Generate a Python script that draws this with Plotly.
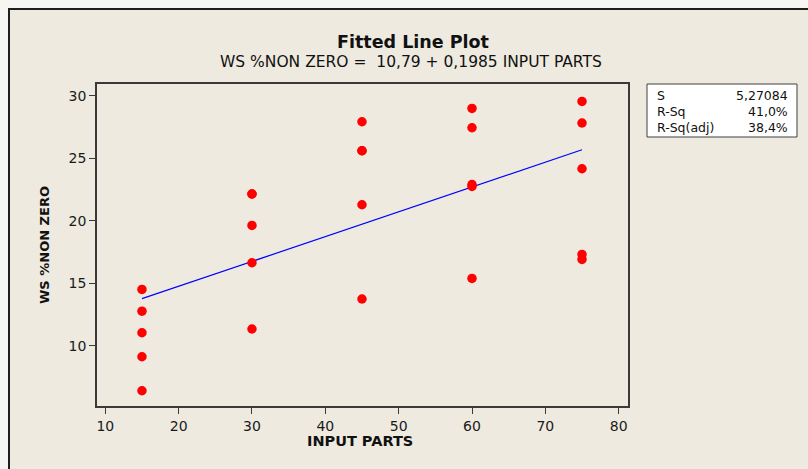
import plotly.graph_objects as go

# Observations: input parts vs. WS %non zero
input_parts = [15, 15, 15, 15, 15,
               30, 30, 30, 30, 30,
               45, 45, 45, 45, 45,
               60, 60, 60, 60, 60,
               75, 75, 75, 75, 75]
ws_nonzero = [14.51, 12.77, 11.04, 9.12, 6.40,
              22.14, 22.14, 19.63, 16.64, 11.34,
              27.92, 25.60, 25.60, 21.28, 13.74,
              28.99, 27.44, 22.90, 22.74, 15.39,
              29.55, 27.82, 24.16, 17.31, 16.91]

# Regression results
intercept = 10.79
slope = 0.1985
stat_labels = ["S", "R-Sq", "R-Sq(adj)"]
stat_values = ["5,27084", "41,0%", "38,4%"]

x_ticks = [10, 20, 30, 40, 50, 60, 70, 80]
y_ticks = [10, 15, 20, 25, 30]

# Figure geometry (pixels)
W, H = 808, 469
L, R, T, B = 97, 628, 84, 406


def px(x):
    return (x - L) / (R - L)


def py(y):
    return (B - y) / (B - T)


BEIGE = "#EEEAE0"
OUTER = "#F6F5F1"
FONT = "DejaVu Sans, Verdana, sans-serif"

fit_x = [min(input_parts), max(input_parts)]
fit_y = [intercept + slope * v for v in fit_x]

fig = go.Figure()
fig.add_trace(go.Scatter(
    x=fit_x, y=fit_y, mode="lines",
    line=dict(color="#0000FF", width=1.2),
    hoverinfo="skip", showlegend=False,
))
fig.add_trace(go.Scatter(
    x=input_parts, y=ws_nonzero, mode="markers",
    marker=dict(color="#FF0000", size=9.5, line=dict(width=0)),
    showlegend=False,
))

axis_common = dict(
    showgrid=False, zeroline=False,
    showline=True, mirror=True, linecolor="#3a3a3a", linewidth=1.5,
    ticks="outside", ticklen=6, tickwidth=1, tickcolor="#3a3a3a",
    tickfont=dict(family=FONT, size=14, color="#1a1a1a"),
)

fig.update_layout(
    width=W, height=H, autosize=False,
    margin=dict(l=L, r=W - R, t=T, b=H - B, pad=0),
    paper_bgcolor=OUTER, plot_bgcolor="white",
    xaxis=dict(range=[8.87, 81.27], tickvals=x_ticks, **axis_common),
    yaxis=dict(range=[5.18, 30.94], tickvals=y_ticks, **axis_common),
)

shapes = [
    # outer panel
    dict(type="rect", xref="paper", yref="paper",
         x0=px(9), x1=px(830), y0=py(9), y1=py(490),
         fillcolor=BEIGE, line=dict(color="#1e1e1e", width=2), layer="below"),
    # statistics box
    dict(type="rect", xref="paper", yref="paper",
         x0=px(647), x1=px(797), y0=py(84), y1=py(137),
         fillcolor="white", line=dict(color="#404040", width=1)),
]

annotations = [
    dict(text="<b>Fitted Line Plot</b>", x=px(413), y=py(42),
         font=dict(family=FONT, size=17.5, color="#111111")),
    dict(text="WS %NON ZERO =\u00a0 10,79 + 0,1985 INPUT PARTS", x=px(411), y=py(62),
         font=dict(family=FONT, size=15.5, color="#111111")),
    dict(text="<b>INPUT PARTS</b>", x=px(360), y=py(441),
         font=dict(family=FONT, size=14.5, color="#111111")),
    dict(text="<b>WS %NON ZERO</b>", x=px(44), y=py(245), textangle=-90,
         font=dict(family=FONT, size=13, color="#111111")),
]

row_y = [95, 111, 127]
for lab, val, yy in zip(stat_labels, stat_values, row_y):
    annotations.append(dict(text=lab, x=px(655), y=py(yy), xanchor="left",
                            font=dict(family=FONT, size=12.5, color="#111111")))
    annotations.append(dict(text=val, x=px(790), y=py(yy), xanchor="right",
                            font=dict(family=FONT, size=12.5, color="#111111")))

for a in annotations:
    a.setdefault("xanchor", "center")
    a.update(xref="paper", yref="paper", yanchor="middle", showarrow=False)

fig.update_layout(shapes=shapes, annotations=annotations)

fig.write_html("out.html")
